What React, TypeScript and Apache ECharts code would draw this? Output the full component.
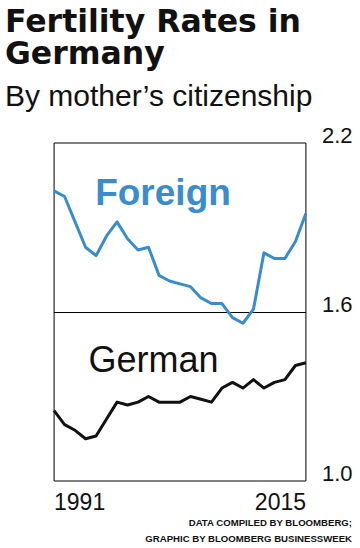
import React, { useEffect, useRef } from "react";
import * as echarts from "echarts";

const years: string[] = [
  "1991", "1992", "1993", "1994", "1995", "1996", "1997", "1998", "1999", "2000",
  "2001", "2002", "2003", "2004", "2005", "2006", "2007", "2008", "2009", "2010",
  "2011", "2012", "2013", "2014", "2015",
];

const foreignRates: number[] = [
  2.03, 2.01, 1.92, 1.83, 1.8, 1.87, 1.92, 1.86, 1.82, 1.83,
  1.73, 1.71, 1.7, 1.69, 1.65, 1.63, 1.63, 1.58, 1.56, 1.61,
  1.81, 1.79, 1.79, 1.85, 1.95,
];

const germanRates: number[] = [
  1.25, 1.2, 1.18, 1.15, 1.16, 1.22, 1.28, 1.27, 1.28, 1.3,
  1.28, 1.28, 1.28, 1.3, 1.29, 1.28, 1.33, 1.35, 1.33, 1.36,
  1.33, 1.35, 1.36, 1.41, 1.42,
];

const yTickLabels: number[] = [1.0, 1.6, 2.2];
const xTickLabels: string[] = ["1991", "2015"];

const BLUE = "#3a8dcc";
const INK = "#111111";
const SANS = "'Liberation Sans', Arial, Helvetica, sans-serif";

export default function App() {
  const ref = useRef<HTMLDivElement>(null);

  useEffect(() => {
    if (!ref.current) return;
    const chart = echarts.init(ref.current, undefined, { renderer: "svg" });
    const option: any = {
      animation: false,
      backgroundColor: "#ffffff",
      grid: {
        left: 5,
        right: 54,
        top: 143,
        bottom: 67,
        show: true,
        borderColor: "#000000",
        borderWidth: 1,
        backgroundColor: "transparent",
      },
      xAxis: {
        type: "category",
        data: years,
        boundaryGap: false,
        axisLine: { show: false },
        axisTick: { show: false },
        splitLine: { show: false },
        axisLabel: {
          interval: (i: number, v: string) => xTickLabels.indexOf(v) >= 0,
          margin: 12,
          formatter: (v: string) =>
            v === xTickLabels[0] ? "{l|" + v + "}" : "{r|" + v + "}",
          rich: {
            l: {
              fontFamily: SANS,
              fontSize: 23,
              color: INK,
              lineHeight: 17,
              padding: [0, 0, 0, 51],
            },
            r: {
              fontFamily: SANS,
              fontSize: 23,
              color: INK,
              lineHeight: 17,
              padding: [0, 51, 0, 0],
            },
          },
        },
      },
      yAxis: {
        type: "value",
        position: "right",
        min: 1.0,
        max: 2.2,
        interval: 0.2,
        axisLine: { show: false },
        axisTick: { show: false },
        splitLine: { show: false },
        axisLabel: {
          margin: 16,
          align: "left",
          verticalAlign: "bottom",
          fontFamily: SANS,
          fontSize: 22,
          lineHeight: 16,
          color: INK,
          formatter: (v: number) => {
            const hit = yTickLabels.find((t) => Math.abs(t - v) < 1e-6);
            return hit !== undefined ? hit.toFixed(1) : "";
          },
        },
      },
      series: [
        {
          name: "Foreign",
          type: "line",
          data: foreignRates,
          symbol: "none",
          lineStyle: { color: BLUE, width: 3, join: "round" },
          z: 3,
        },
        {
          name: "German",
          type: "line",
          data: germanRates,
          symbol: "none",
          lineStyle: { color: INK, width: 3, join: "round" },
          z: 3,
          markLine: {
            silent: true,
            symbol: ["none", "none"],
            label: { show: false },
            lineStyle: { color: "#000000", width: 1, type: "solid" },
            data: [{ yAxis: yTickLabels[1] }],
            z: 1,
          },
        },
      ],
      graphic: [
        {
          type: "text",
          x: 5,
          y: 37.3,
          style: {
            text: "Fertility Rates in\nGermany",
            fontFamily: "'DejaVu Sans', sans-serif",
            fontWeight: "bold",
            fontSize: 31.5,
            lineHeight: 31.7,
            fill: INK,
            align: "left",
            verticalAlign: "middle",
          },
        },
        {
          type: "text",
          x: 5,
          y: 95.5,
          style: {
            text: "By mother\u2019s citizenship",
            fontFamily: SANS,
            fontSize: 30,
            fill: INK,
            align: "left",
            verticalAlign: "middle",
          },
        },
        {
          type: "text",
          x: 163,
          y: 192.5,
          style: {
            text: "Foreign",
            fontFamily: SANS,
            fontWeight: "bold",
            fontSize: 37,
            fill: BLUE,
            align: "center",
            verticalAlign: "middle",
          },
        },
        {
          type: "text",
          x: 153.5,
          y: 359,
          style: {
            text: "German",
            fontFamily: SANS,
            fontSize: 36,
            fill: INK,
            align: "center",
            verticalAlign: "middle",
          },
        },
        {
          type: "text",
          x: 352,
          y: 530.5,
          style: {
            text: "DATA COMPILED BY BLOOMBERG;\nGRAPHIC BY BLOOMBERG BUSINESSWEEK",
            fontFamily: SANS,
            fontWeight: "bold",
            fontSize: 9.6,
            lineHeight: 16,
            fill: INK,
            align: "right",
            verticalAlign: "middle",
          },
        },
      ],
    };
    chart.setOption(option);
    return () => {
      chart.dispose();
    };
  }, []);

  return (
    <div
      ref={ref}
      style={{
        position: "fixed",
        left: 0,
        top: 0,
        width: 360,
        height: 548,
        background: "#ffffff",
      }}
    />
  );
}
